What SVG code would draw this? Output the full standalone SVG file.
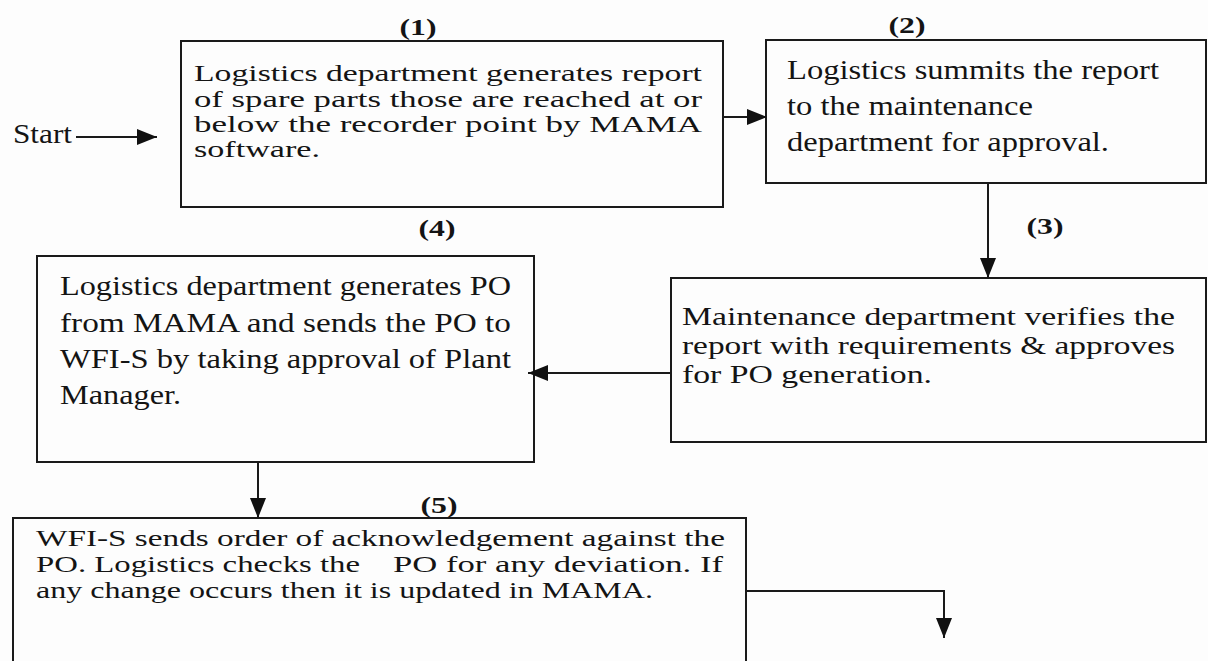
<svg xmlns="http://www.w3.org/2000/svg" width="1208" height="661" viewBox="0 0 1208 661">
<defs>
<style>
.box{fill:none;stroke:#1a1a1a;stroke-width:2}
.t{fill:#141414}
.n{font-weight:bold;font-size:24px;fill:#141414;text-anchor:middle}
.c{fill:none;stroke:#1a1a1a;stroke-width:2}
</style>
<marker id="ah" markerUnits="userSpaceOnUse" markerWidth="22" markerHeight="18" refX="20" refY="9" orient="auto">
<path d="M0,1 L20,9 L0,17 Z" fill="#111"/>
</marker>
</defs>
<rect width="1208" height="661" fill="#fdfdfd"/>
<g font-family="'Liberation Serif', 'Times New Roman', Times, serif">

<g id="start">
<text class="t" x="13" y="143" font-size="27" textLength="59" lengthAdjust="spacingAndGlyphs">Start</text>
</g>

<g id="node1">
<rect class="box" x="181" y="41" width="542" height="166"/>
<text class="n" x="418" y="35" textLength="37" lengthAdjust="spacingAndGlyphs">(1)</text>
<text class="t" font-size="24" x="194" y="81" textLength="508" lengthAdjust="spacingAndGlyphs">Logistics department generates report</text>
<text class="t" font-size="24" x="194" y="107" textLength="508" lengthAdjust="spacingAndGlyphs">of spare parts those are reached at or</text>
<text class="t" font-size="24" x="194" y="132" textLength="508" lengthAdjust="spacingAndGlyphs">below the recorder point by MAMA</text>
<text class="t" font-size="24" x="194" y="157" textLength="126" lengthAdjust="spacingAndGlyphs">software.</text>
</g>

<g id="node2">
<rect class="box" x="766" y="40" width="440" height="143"/>
<text class="n" x="907" y="33" textLength="37" lengthAdjust="spacingAndGlyphs">(2)</text>
<text class="t" font-size="28" x="787" y="79" textLength="372" lengthAdjust="spacingAndGlyphs">Logistics summits the report</text>
<text class="t" font-size="28" x="787" y="115" textLength="246" lengthAdjust="spacingAndGlyphs">to the maintenance</text>
<text class="t" font-size="28" x="787" y="151" textLength="322" lengthAdjust="spacingAndGlyphs">department for approval.</text>
</g>

<g id="node3">
<rect class="box" x="671" y="278" width="535" height="164"/>
<text class="n" x="1045" y="234" textLength="37" lengthAdjust="spacingAndGlyphs">(3)</text>
<text class="t" font-size="26" x="682" y="325" textLength="493" lengthAdjust="spacingAndGlyphs">Maintenance department verifies the</text>
<text class="t" font-size="26" x="682" y="354" textLength="493" lengthAdjust="spacingAndGlyphs">report with requirements &amp; approves</text>
<text class="t" font-size="26" x="682" y="383" textLength="250" lengthAdjust="spacingAndGlyphs">for PO generation.</text>
</g>

<g id="node4">
<rect class="box" x="37" y="256" width="497" height="206"/>
<text class="n" x="437" y="236" textLength="37" lengthAdjust="spacingAndGlyphs">(4)</text>
<text class="t" font-size="27" x="60" y="295" textLength="451" lengthAdjust="spacingAndGlyphs">Logistics department generates PO</text>
<text class="t" font-size="27" x="60" y="332" textLength="451" lengthAdjust="spacingAndGlyphs">from MAMA and sends the PO to</text>
<text class="t" font-size="27" x="60" y="368" textLength="451" lengthAdjust="spacingAndGlyphs">WFI-S by taking approval of Plant</text>
<text class="t" font-size="27" x="60" y="404" textLength="121" lengthAdjust="spacingAndGlyphs">Manager.</text>
</g>

<g id="node5">
<rect class="box" x="13" y="518" width="733" height="160"/>
<text class="n" x="439" y="513" textLength="37" lengthAdjust="spacingAndGlyphs">(5)</text>
<text class="t" font-size="24" x="36" y="546" textLength="689" lengthAdjust="spacingAndGlyphs">WFI-S sends order of acknowledgement against the</text>
<text class="t" font-size="24" x="36" y="572" textLength="324" lengthAdjust="spacingAndGlyphs">PO. Logistics checks the</text>
<text class="t" font-size="24" x="393" y="572" textLength="330" lengthAdjust="spacingAndGlyphs">PO for any deviation. If</text>
<text class="t" font-size="24" x="36" y="598" textLength="617" lengthAdjust="spacingAndGlyphs">any change occurs then it is updated in MAMA.</text>
</g>
</g>

<g id="connectors">
<line class="c" x1="76" y1="137" x2="157" y2="137" marker-end="url(#ah)"/>
<line class="c" x1="723" y1="117" x2="767" y2="117" marker-end="url(#ah)"/>
<line class="c" x1="988" y1="183" x2="988" y2="278" marker-end="url(#ah)"/>
<line class="c" x1="671" y1="373" x2="528" y2="373" marker-end="url(#ah)"/>
<line class="c" x1="258" y1="462" x2="258" y2="518" marker-end="url(#ah)"/>
<polyline class="c" points="746,591 944,591 944,638" marker-end="url(#ah)"/>
</g>
</svg>
